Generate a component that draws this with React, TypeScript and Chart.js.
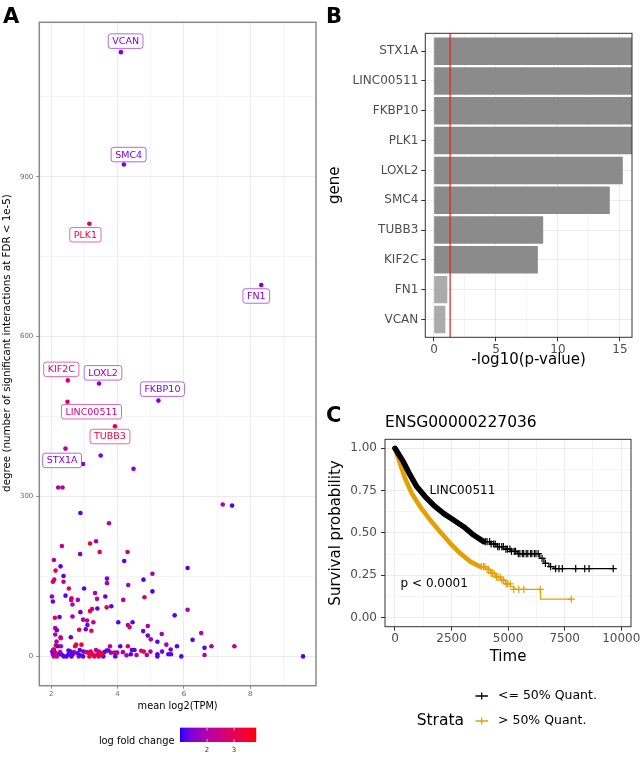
import React, { useEffect, useRef } from "react";
import { Chart, registerables } from "chart.js";
Chart.register(...registerables);

const FONT = '"DejaVu Sans", "Noto Sans", sans-serif';

// ---------------- Panel A data ----------------
const pointTPM = [
  2.43, 3.49, 4.48, 2.21, 2.34, 7.17, 7.45, 2.88,
  3.74, 2.32, 3.35, 3.17, 3.46, 4.30, 2.87, 2.08, 4.20, 2.28,
  2.13, 6.11, 5.05, 2.37, 3.68, 2.09, 4.78, 2.37, 2.05, 3.68,
  4.32, 2.53, 2.99, 5.05, 2.02, 3.63, 2.61, 3.32, 3.38, 2.80,
  4.17, 2.05, 2.60, 2.64, 2.43, 4.81, 2.64, 2.11, 2.25, 2.88,
  3.39, 3.17, 3.23, 3.67, 3.81, 5.72, 6.11, 2.96, 3.27, 3.08,
  3.04, 3.09, 2.84, 3.21, 2.12, 2.17, 2.59, 2.28, 2.12, 4.02,
  4.31, 4.36, 4.45, 4.77, 4.91, 4.91, 5.00, 5.33, 5.20, 5.47,
  6.26, 6.52, 6.62, 6.83, 7.52, 6.62, 9.59, 5.92, 5.79, 5.60,
  5.53, 5.61, 5.20, 5.20, 5.34, 4.99, 4.79, 4.71, 4.88, 4.57,
  4.51, 4.43, 4.40, 4.31, 4.27, 4.16, 4.08, 3.99, 3.93, 3.80,
  3.77, 3.72, 3.67, 3.60, 3.57, 3.50, 3.44, 3.39, 3.30, 3.25,
  3.19, 3.15, 3.12, 2.96, 2.97, 3.06, 2.91, 2.83, 2.79, 2.75,
  2.72, 2.69, 2.65, 2.61, 2.58, 2.52, 2.52, 2.46, 2.38, 2.32,
  2.27, 2.22, 2.17, 2.13, 2.08, 2.05, 2.03, 2.08, 2.14, 2.20,
  2.29, 2.06, 2.16, 2.29, 2.86, 3.43, 2.86, 3.35, 3.52, 3.91,
];
const pointDegree = [
  390, 377, 352, 317, 317, 285, 283, 269,
  250, 207, 216, 212, 196, 196, 192, 181, 179, 169,
  161, 166, 155, 151, 146, 144, 144, 140, 140, 137.5,
  134, 127.5, 127.5, 122, 112.5, 112.5, 109, 119, 108, 106,
  106, 103, 106, 97.5, 114, 111, 75, 72.5, 74, 83,
  90, 85, 89, 92, 94, 77, 87.5, 69, 64, 67.5,
  51, 59, 50, 48, 53, 49, 36, 36, 41, 64,
  59, 55, 64, 47.5, 57, 39, 32, 42, 27.5, 22,
  31, 44, 16, 19, 19, 2.5, 0, 0, 19, 13,
  4, 4, 4, 0, 9, 9, 9, 10.5, 2.5, 2.5,
  12, 12, 4, 19, 2, 8, 19, 7, 0, 7,
  19, 11, 11, 8, 0, 4, 9, 4, 0, 4,
  9, 0, 7, 0, 9, 8, 22, 0, 6, 22,
  19, 8, 4, 0, 9, 4, 11, 0, 0, 3,
  8, 4, 0, 7, 0, 4, 9, 13, 20.6, 19,
  19, 12.5, 28, 34, 2.5, 0, 12, 12, 6, 7,
];
const pointLFC = [
  2.1, 1.5, 1.6, 2.1, 2.1, 2.0, 1.2, 1.2,
  2.0, 2.4, 1.9, 3.6, 3.0, 2.3, 1.4, 2.3, 1.2, 1.2,
  3.0, 1.2, 1.8, 1.2, 1.4, 2.6, 1.2, 2.2, 2.6, 2.0,
  1.8, 3.0, 1.2, 1.2, 1.6, 1.2, 3.6, 2.0, 2.6, 2.0,
  2.0, 1.3, 2.0, 2.0, 1.2, 2.6, 2.0, 3.0, 1.2, 1.3,
  1.2, 3.6, 2.5, 3.3, 1.2, 1.2, 2.0, 2.0, 2.2, 2.2,
  1.3, 1.3, 3.2, 3.0, 2.5, 1.3, 1.2, 2.0, 2.0, 1.2,
  2.0, 3.0, 1.2, 1.3, 2.0, 1.3, 2.0, 1.8, 1.2, 1.9,
  1.2, 2.2, 1.2, 2.0, 2.2, 2.0, 1.2, 1.2, 1.2, 1.3,
  1.2, 1.2, 1.2, 1.2, 1.3, 2.0, 3.6, 2.6, 2.0, 2.0,
  1.2, 1.2, 1.2, 3.0, 2.0, 2.0, 1.2, 2.0, 1.2, 2.0,
  2.4, 1.2, 1.3, 1.2, 1.2, 2.0, 2.6, 2.0, 2.6, 3.6,
  2.6, 3.6, 3.0, 1.2, 1.2, 2.6, 3.6, 2.0, 1.2, 3.0,
  3.6, 2.0, 1.2, 1.2, 1.2, 1.2, 1.2, 1.2, 1.2, 1.2,
  2.0, 1.2, 2.6, 3.0, 2.0, 2.0, 1.2, 1.2, 3.6, 1.2,
  2.0, 2.6, 2.0, 2.6, 1.2, 3.6, 1.2, 2.6, 3.6, 2.0,
];
const labelGenes = ["VCAN", "SMC4", "PLK1", "FN1", "KIF2C", "LOXL2", "FKBP10", "LINC00511", "TUBB3", "STX1A"];
const labelTPM = [4.10, 4.19, 3.15, 8.33, 2.50, 3.44, 5.23, 2.49, 3.92, 2.96];
const labelDegree = [1134, 923, 812, 697, 518, 512, 480, 478, 432, 361];
const labelLFC = [1.5, 1.4, 3.0, 1.5, 2.7, 1.6, 1.5, 2.5, 3.2, 1.5];
const lfcLimits = [1.0, 3.8];
const lfcBreaks = [2, 3];
const aXTicks = [2, 4, 6, 8];
const aXMinor = [3, 5, 7, 9];
const aYTicks = [0, 300, 600, 900];
const aYMinor = [150, 450, 750, 1050];

// ---------------- Panel B data ----------------
const genesB = ["STX1A", "LINC00511", "FKBP10", "PLK1", "LOXL2", "SMC4", "TUBB3", "KIF2C", "FN1", "VCAN"];
const negLog10P = [16, 16, 16, 16, 15.2, 14.15, 8.78, 8.35, 1.05, 0.89];
const significant = [true, true, true, true, true, true, true, true, false, false];
const pThreshold = 0.05;
const bXTicks = [0, 5, 10, 15];
const bXMinor = [2.5, 7.5, 12.5];

// ---------------- Panel C data ----------------
const lowTime = [0, 370, 666, 961, 1331, 1701, 2145, 2588, 3032, 3476, 3919, 4215, 4511, 4800, 5102, 5400, 6400, 6582, 6803, 7025, 9643];
const lowSurv = [1.0, 0.921, 0.843, 0.774, 0.715, 0.665, 0.616, 0.577, 0.537, 0.488, 0.449, 0.435, 0.419, 0.405, 0.392, 0.378, 0.35, 0.321, 0.301, 0.29, 0.29];
const lowCensor = [3990, 4070, 4180, 4250, 4360, 4430, 4540, 4610, 4720, 4790, 4900, 4970, 5080, 5150, 5270, 5330, 5450, 5520, 5630, 5690, 5800, 5870, 5990, 6050, 6160, 6230, 6330, 6500, 6650, 6877, 7100, 7247, 7395, 7987, 8386, 8578, 9643];
const highTime = [0, 222, 444, 740, 1109, 1553, 1997, 2440, 2884, 3328, 3772, 4000, 4215, 4450, 4659, 4880, 5102, 5250, 6434, 7794];
const highSurv = [1.0, 0.911, 0.823, 0.734, 0.656, 0.577, 0.508, 0.439, 0.38, 0.331, 0.301, 0.285, 0.262, 0.24, 0.222, 0.2, 0.183, 0.167, 0.11, 0.11];
const highCensor = [3820, 3910, 3980, 4070, 4140, 4250, 4310, 4380, 4480, 4550, 4650, 4720, 4800, 4910, 4980, 5090, 5250, 5472, 5694, 6420, 7794];
const strataLabels = ["<= 50% Quant.", "> 50% Quant."];
const cXTicks = [0, 2500, 5000, 7500, 10000];
const cXMinor = [1250, 3750, 6250, 8750];
const cYTicks = [0, 0.25, 0.5, 0.75, 1];
const cYMinor = [0.125, 0.375, 0.625, 0.875];
const cAnnotText = ["LINC00511", "p < 0.0001"];
const cAnnotTime = [2981, 1736];
const cAnnotSurv = [0.75, 0.2];

// ---------------- styles ----------------
const labelDX = [4.7, 4.7, -4, -5, -6.5, 4, 4, 24, -5, -21];
const labelDY = [-11, -10, 11, 11, -11, -10.7, -11.5, 10, 10.3, -3.6];
const LOW_COL = "#0000FF";
const HIGH_COL = "#FF0000";
const BLACK_COL = "#000000";
const ORANGE_COL = "#E69F00";

// ---- Lab colour interpolation (like ggplot's gradient) ----
function toLin(c: number) { c /= 255; return c <= 0.04045 ? c / 12.92 : Math.pow((c + 0.055) / 1.055, 2.4); }
function fromLin(c: number) { const v = c <= 0.0031308 ? 12.92 * c : 1.055 * Math.pow(c, 1 / 2.4) - 0.055; return Math.round(Math.max(0, Math.min(1, v)) * 255); }
const WX = 0.95047, WY = 1, WZ = 1.08883;
function hexRgb(h: string) { return [parseInt(h.slice(1, 3), 16), parseInt(h.slice(3, 5), 16), parseInt(h.slice(5, 7), 16)]; }
function rgbToLab(rgb: number[]) {
  const R = toLin(rgb[0]), G = toLin(rgb[1]), B = toLin(rgb[2]);
  const X = (0.4124564 * R + 0.3575761 * G + 0.1804375 * B) / WX;
  const Y = (0.2126729 * R + 0.7151522 * G + 0.072175 * B) / WY;
  const Z = (0.0193339 * R + 0.119192 * G + 0.9503041 * B) / WZ;
  const f = (t: number) => (t > 0.008856 ? Math.cbrt(t) : 7.787 * t + 16 / 116);
  const fx = f(X), fy = f(Y), fz = f(Z);
  return [116 * fy - 16, 500 * (fx - fy), 200 * (fy - fz)];
}
function labToRgb(lab: number[]) {
  const fy = (lab[0] + 16) / 116, fx = fy + lab[1] / 500, fz = fy - lab[2] / 200;
  const inv = (t: number) => (t * t * t > 0.008856 ? t * t * t : (t - 16 / 116) / 7.787);
  const X = inv(fx) * WX, Y = inv(fy) * WY, Z = inv(fz) * WZ;
  const R = 3.2404542 * X - 1.5371385 * Y - 0.4985314 * Z;
  const G = -0.969266 * X + 1.8760108 * Y + 0.041556 * Z;
  const B = 0.0556434 * X - 0.2040259 * Y + 1.0572252 * Z;
  return [fromLin(R), fromLin(G), fromLin(B)];
}
const LAB_LO = rgbToLab(hexRgb(LOW_COL));
const LAB_HI = rgbToLab(hexRgb(HIGH_COL));
function lfcColor(v: number, alpha = 1) {
  let t = (v - lfcLimits[0]) / (lfcLimits[1] - lfcLimits[0]);
  t = Math.max(0, Math.min(1, t));
  const lab = [0, 1, 2].map((k) => LAB_LO[k] + t * (LAB_HI[k] - LAB_LO[k]));
  const c = labToRgb(lab);
  return `rgba(${c[0]},${c[1]},${c[2]},${alpha})`;
}

type TextItem = { t: string; x: number; y: number; size: number; bold?: boolean; color?: string; align?: CanvasTextAlign; base?: CanvasTextBaseline; rot?: boolean };
function drawTexts(ctx: CanvasRenderingContext2D, items: TextItem[]) {
  for (const it of items) {
    ctx.save();
    ctx.font = `${it.bold ? "bold " : ""}${it.size}px ${FONT}`;
    ctx.fillStyle = it.color || "#000";
    ctx.textAlign = it.align || "center";
    ctx.textBaseline = it.base || "middle";
    ctx.translate(it.x, it.y);
    if (it.rot) ctx.rotate(-Math.PI / 2);
    ctx.fillText(it.t, 0, 0);
    ctx.restore();
  }
}
function strokeBorder(chart: any, color: string, lw: number) {
  const a = chart.chartArea;
  const ctx = chart.ctx;
  ctx.save();
  ctx.strokeStyle = color;
  ctx.lineWidth = lw;
  ctx.strokeRect(a.left, a.top, a.right - a.left, a.bottom - a.top);
  ctx.restore();
}
function axis(opts: {
  min: number; max: number; major: number[]; minor: number[]; fmt: (v: number) => string;
  size: number; color: string; tickColor: string; tickLength: number; padding: number;
  fix: number; horizontal: boolean; reverse?: boolean; majorGrid?: string; minorGrid?: string;
}) {
  const all = [...opts.major, ...opts.minor].sort((a, b) => a - b);
  return {
    type: "linear",
    min: opts.min,
    max: opts.max,
    reverse: !!opts.reverse,
    offset: false,
    afterBuildTicks: (s: any) => { s.ticks = all.map((v) => ({ value: v })); },
    afterFit: (s: any) => { if (opts.horizontal) s.height = opts.fix; else s.width = opts.fix; },
    ticks: {
      autoSkip: false, maxRotation: 0, minRotation: 0,
      font: { family: FONT, size: opts.size }, color: opts.color, padding: opts.padding,
      callback: (v: number) => (opts.major.includes(v) ? opts.fmt(v) : ""),
    },
    grid: {
      offset: false,
      drawTicks: true,
      tickLength: opts.tickLength,
      color: (c: any) => (c.tick && opts.major.includes(c.tick.value) ? (opts.majorGrid || "#ebebeb") : (opts.minorGrid || "#f4f4f4")),
      tickColor: (c: any) => (c.tick && opts.major.includes(c.tick.value) ? opts.tickColor : "rgba(0,0,0,0)"),
      lineWidth: 1,
    },
    border: { display: false },
  };
}

export default function App() {
  const refA = useRef<HTMLCanvasElement>(null);
  const refB = useRef<HTMLCanvasElement>(null);
  const refC = useRef<HTMLCanvasElement>(null);

  useEffect(() => {
    // ---------- Panel A ----------
    const chartA = new Chart(refA.current as HTMLCanvasElement, {
      type: "scatter",
      data: {
        datasets: [
          {
            data: pointTPM.map((x, i) => ({ x, y: pointDegree[i] })),
            pointBackgroundColor: pointLFC.map((v) => lfcColor(v)),
            pointBorderWidth: 0,
            pointRadius: 2.3,
          },
          {
            data: labelTPM.map((x, i) => ({ x, y: labelDegree[i] })),
            pointBackgroundColor: labelLFC.map((v) => lfcColor(v)),
            pointBorderWidth: 0,
            pointRadius: 2.3,
          },
        ],
      } as any,
      options: {
        animation: false,
        responsive: false,
        events: [],
        layout: { padding: { left: 0, top: 22.3, right: 4, bottom: 0 } },
        plugins: { legend: { display: false }, tooltip: { enabled: false } },
        scales: {
          x: axis({ min: 1.64, max: 9.98, major: aXTicks, minor: aXMinor, fmt: (v) => String(v), size: 7, color: "#6b6b6b", tickColor: "#8a8a8a", tickLength: 3, padding: 1, fix: 71.3, horizontal: true }),
          y: axis({ min: -55, max: 1190, major: aYTicks, minor: aYMinor, fmt: (v) => String(v), size: 7, color: "#6b6b6b", tickColor: "#8a8a8a", tickLength: 3, padding: 3, fix: 39.3, horizontal: false }),
        } as any,
      },
      plugins: [
        {
          id: "decorA",
          afterDatasetsDraw(chart: any) {
            const ctx = chart.ctx as CanvasRenderingContext2D;
            const xs = chart.scales.x, ys = chart.scales.y;
            ctx.save();
            ctx.font = `9.5px ${FONT}`;
            labelGenes.forEach((g, i) => {
              const cx = xs.getPixelForValue(labelTPM[i]) + labelDX[i];
              const cy = ys.getPixelForValue(labelDegree[i]) + labelDY[i];
              const w = ctx.measureText(g).width + 8;
              const h = 14.5;
              const x0 = cx - w / 2, y0 = cy - h / 2, r = 2.5;
              ctx.beginPath();
              ctx.moveTo(x0 + r, y0);
              ctx.lineTo(x0 + w - r, y0);
              ctx.arcTo(x0 + w, y0, x0 + w, y0 + r, r);
              ctx.lineTo(x0 + w, y0 + h - r);
              ctx.arcTo(x0 + w, y0 + h, x0 + w - r, y0 + h, r);
              ctx.lineTo(x0 + r, y0 + h);
              ctx.arcTo(x0, y0 + h, x0, y0 + h - r, r);
              ctx.lineTo(x0, y0 + r);
              ctx.arcTo(x0, y0, x0 + r, y0, r);
              ctx.closePath();
              ctx.fillStyle = "#ffffff";
              ctx.fill();
              ctx.strokeStyle = lfcColor(labelLFC[i], 0.6);
              ctx.lineWidth = 1;
              ctx.stroke();
              ctx.fillStyle = lfcColor(labelLFC[i]);
              ctx.textAlign = "center";
              ctx.textBaseline = "middle";
              ctx.fillText(g, cx, cy + 0.5);
            });
            ctx.restore();
            strokeBorder(chart, "#8a8a8a", 1.5);
          },
          afterDraw(chart: any) {
            const ctx = chart.ctx as CanvasRenderingContext2D;
            const a = chart.chartArea;
            drawTexts(ctx, [
              { t: "A", x: 3, y: 23.3, size: 21, bold: true, align: "left", base: "alphabetic" },
              { t: "degree (number of significant interactions at FDR < 1e-5)", x: 7.5, y: 343, size: 10.3, rot: true },
              { t: "mean log2(TPM)", x: (a.left + a.right) / 2, y: 706.7, size: 9.8 },
              { t: "log fold change", x: 136.7, y: 741.7, size: 9.8 },
            ]);
            // colour bar
            const bx = 180, bw = 75.7, by = 727.7, bh = 14.3;
            for (let i = 0; i < bw; i++) {
              const v = lfcLimits[0] + ((i + 0.5) / bw) * (lfcLimits[1] - lfcLimits[0]);
              ctx.fillStyle = lfcColor(v);
              ctx.fillRect(bx + i, by, 1.2, bh);
            }
            ctx.save();
            ctx.strokeStyle = "rgba(255,255,255,0.8)";
            ctx.lineWidth = 0.8;
            const items: TextItem[] = [];
            lfcBreaks.forEach((b) => {
              const x = bx + ((b - lfcLimits[0]) / (lfcLimits[1] - lfcLimits[0])) * bw;
              ctx.beginPath();
              ctx.moveTo(x, by); ctx.lineTo(x, by + 3);
              ctx.moveTo(x, by + bh); ctx.lineTo(x, by + bh - 3);
              ctx.stroke();
              items.push({ t: String(b), x, y: 750.5, size: 7, color: "#333" });
            });
            ctx.restore();
            drawTexts(ctx, items);
          },
        },
      ],
    });

    // ---------- Panel B ----------
    const chartB = new Chart(refB.current as HTMLCanvasElement, {
      type: "bar",
      data: {
        datasets: [
          {
            data: negLog10P.map((v, i) => ({ x: v, y: i })),
            backgroundColor: significant.map((s) => (s ? "#8b8b8b" : "#ababab")),
            borderWidth: 0,
            barThickness: 26.8,
            clip: 0,
          },
        ],
      } as any,
      options: {
        animation: false,
        responsive: false,
        events: [],
        indexAxis: "y",
        layout: { padding: { left: 0, top: 33.3, right: 11, bottom: 0 } },
        plugins: { legend: { display: false }, tooltip: { enabled: false } },
        scales: {
          x: axis({ min: -0.7, max: 15.97, major: bXTicks, minor: bXMinor, fmt: (v) => String(v), size: 12, color: "#4d4d4d", tickColor: "#333", tickLength: 4, padding: 1, fix: 42.7, horizontal: true }),
          y: axis({ min: -0.6, max: 9.6, major: genesB.map((_, i) => i), minor: [], fmt: (v) => genesB[v], size: 12, color: "#4d4d4d", tickColor: "#333", tickLength: 4, padding: 3, fix: 105.3, horizontal: false, reverse: true }),
        } as any,
      },
      plugins: [
        {
          id: "decorB",
          afterDatasetsDraw(chart: any) {
            const ctx = chart.ctx as CanvasRenderingContext2D;
            const a = chart.chartArea;
            const x = chart.scales.x.getPixelForValue(-Math.log10(pThreshold));
            ctx.save();
            ctx.strokeStyle = "#e0201c";
            ctx.lineWidth = 1.2;
            ctx.beginPath();
            ctx.moveTo(x, a.top);
            ctx.lineTo(x, a.bottom);
            ctx.stroke();
            ctx.restore();
            strokeBorder(chart, "#333333", 1);
          },
          afterDraw(chart: any) {
            const a = chart.chartArea;
            drawTexts(chart.ctx, [
              { t: "B", x: 6, y: 23.3, size: 21, bold: true, align: "left", base: "alphabetic" },
              { t: "gene", x: 15, y: (a.top + a.bottom) / 2, size: 15, rot: true },
              { t: "-log10(p-value)", x: (a.left + a.right) / 2, y: 360, size: 15 },
            ]);
          },
        },
      ],
    });

    // ---------- Panel C ----------
    const survAt = (times: number[], surv: number[], t: number) => {
      let s = surv[0];
      for (let i = 0; i < times.length; i++) if (times[i] <= t) s = surv[i];
      return s;
    };
    const lowBandEnd = 3919, highBandEnd = 3772;
    const mk = (times: number[], surv: number[], censor: number[], bandEnd: number, color: string, bandW: number) => [
      {
        data: times.map((t, i) => ({ x: t, y: surv[i] })).filter((p) => p.x <= bandEnd),
        showLine: true, borderColor: color, borderWidth: bandW, pointRadius: 0, tension: 0,
        borderCapStyle: "round", borderJoinStyle: "round",
      },
      {
        data: times.map((t, i) => ({ x: t, y: surv[i] })).filter((p) => p.x >= bandEnd),
        showLine: true, stepped: "before", borderColor: color, borderWidth: 1.3, pointRadius: 0,
      },
      {
        data: censor.map((t) => ({ x: t, y: survAt(times, surv, t) })),
        showLine: false, pointStyle: "cross", pointRadius: 3.6, pointBorderWidth: 1.2,
        pointBorderColor: color, borderColor: color,
      },
    ];
    const chartC = new Chart(refC.current as HTMLCanvasElement, {
      type: "scatter",
      data: {
        datasets: [
          ...mk(lowTime, lowSurv, lowCensor, lowBandEnd, BLACK_COL, 5.5),
          ...mk(highTime, highSurv, highCensor, highBandEnd, ORANGE_COL, 4.6),
        ],
      } as any,
      options: {
        animation: false,
        responsive: false,
        events: [],
        layout: { padding: { left: 0, top: 59.3, right: 12, bottom: 0 } },
        plugins: { legend: { display: false }, tooltip: { enabled: false } },
        scales: {
          x: axis({ min: -440, max: 10430, major: cXTicks, minor: cXMinor, fmt: (v) => String(v), size: 12, color: "#4d4d4d", tickColor: "#333", tickLength: 4, padding: 1, fix: 130.3, horizontal: true }),
          y: axis({ min: -0.053, max: 1.053, major: cYTicks, minor: cYMinor, fmt: (v) => v.toFixed(2), size: 12, color: "#4d4d4d", tickColor: "#333", tickLength: 4, padding: 4, fix: 65, horizontal: false }),
        } as any,
      },
      plugins: [
        {
          id: "decorC",
          afterDatasetsDraw(chart: any) {
            const xs = chart.scales.x, ys = chart.scales.y;
            drawTexts(chart.ctx, cAnnotText.map((t, i) => ({ t, x: xs.getPixelForValue(cAnnotTime[i]), y: ys.getPixelForValue(cAnnotSurv[i]), size: 12 })));
            strokeBorder(chart, "#333333", 1);
          },
          afterDraw(chart: any) {
            const ctx = chart.ctx as CanvasRenderingContext2D;
            const a = chart.chartArea;
            drawTexts(ctx, [
              { t: "C", x: 6, y: 41.7, size: 21, bold: true, align: "left", base: "alphabetic" },
              { t: "ENSG00000227036", x: a.left, y: 43.3, size: 15.5, align: "left" },
              { t: "Survival probability", x: 15.7, y: (a.top + a.bottom) / 2, size: 15, rot: true },
              { t: "Time", x: (a.left + a.right) / 2, y: 276.7, size: 15 },
              { t: "Strata", x: 96.7, y: 340.7, size: 15.5, align: "left" },
              { t: strataLabels[0], x: 178, y: 316, size: 12.5, align: "left" },
              { t: strataLabels[1], x: 178, y: 341, size: 12.5, align: "left" },
            ]);
            [[BLACK_COL, 316], [ORANGE_COL, 341]].forEach(([c, y]: any) => {
              ctx.save();
              ctx.strokeStyle = c;
              ctx.lineWidth = 1.3;
              ctx.beginPath();
              ctx.moveTo(155.5, y); ctx.lineTo(168, y);
              ctx.moveTo(161.7, y - 3.6); ctx.lineTo(161.7, y + 3.6);
              ctx.stroke();
              ctx.restore();
            });
          },
        },
      ],
    });

    return () => {
      chartA.destroy();
      chartB.destroy();
      chartC.destroy();
    };
  }, []);

  const cs = (l: number, t: number, w: number, h: number): React.CSSProperties => ({ position: "absolute", left: l, top: t, width: w, height: h });
  return (
    <div style={{ position: "absolute", left: 0, top: 0, width: 643, height: 757, background: "#fff" }}>
      <canvas ref={refA} width={320} height={757} style={cs(0, 0, 320, 757)} />
      <canvas ref={refB} width={323} height={380} style={cs(320, 0, 323, 380)} />
      <canvas ref={refC} width={323} height={377} style={cs(320, 380, 323, 377)} />
    </div>
  );
}
